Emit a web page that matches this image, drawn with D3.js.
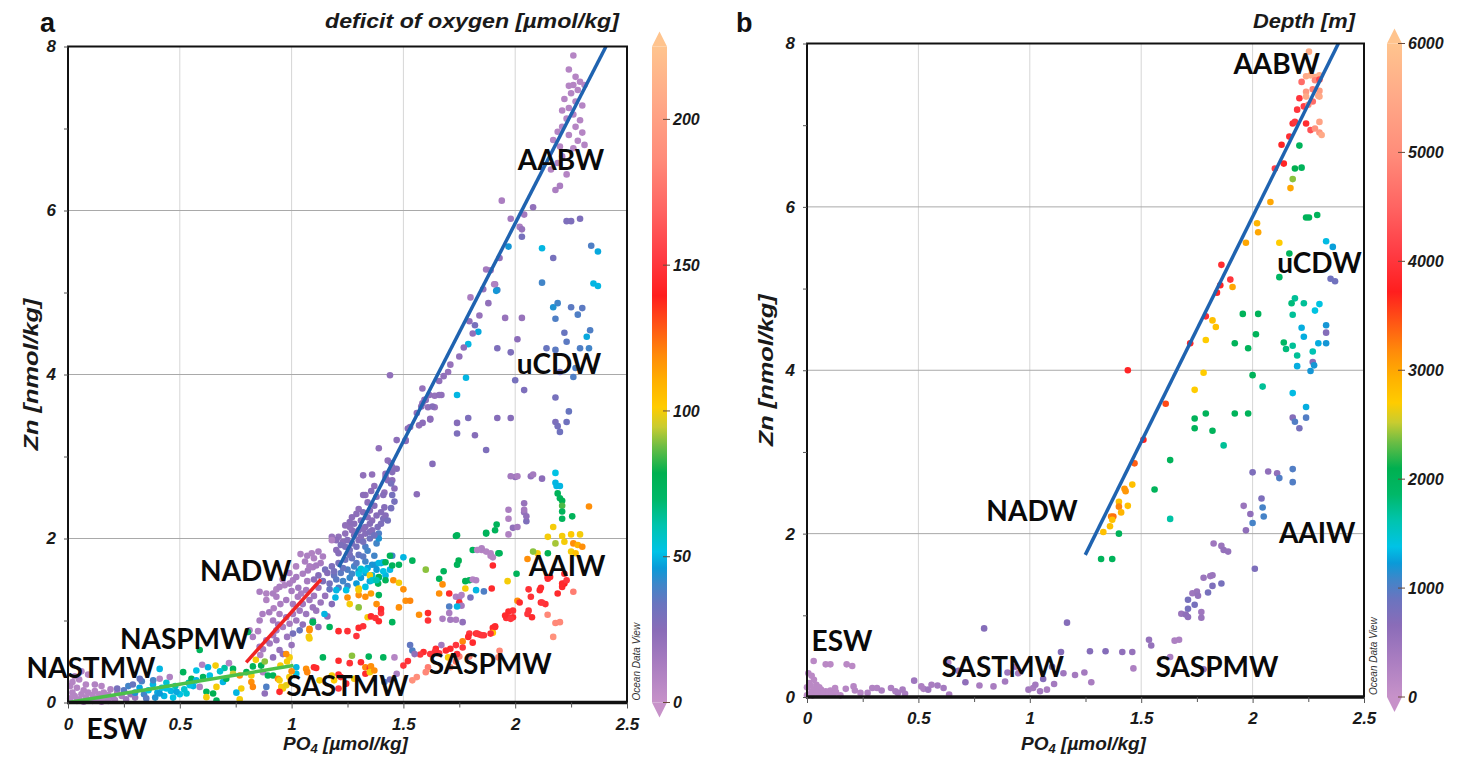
<!DOCTYPE html>
<html>
<head>
<meta charset="utf-8">
<script src="https://cdn.jsdelivr.net/npm/d3@7"></script>
<style>
  body { margin: 0; background: #fff; }
  svg { display: block; }
</style>
</head>
<body>
<svg id="chart" width="1462" height="759"></svg>
<script>
// ---- data: [PO4, Zn, colour value] ----
const deficitPoints = [
  // AABW
  [2.26,7.89,8],[2.24,7.72,8],[2.27,7.63,8],[2.29,7.57,8],[2.24,7.52,8],[2.26,7.53,8],[2.31,7.53,8],[2.28,7.47,8],
  [2.25,7.43,8],[2.22,7.36,8],[2.27,7.33,8],[2.3,7.28,8],[2.24,7.25,8],[2.21,7.22,8],[2.26,7.17,8],[2.23,7.12,8],
  [2.29,7.1,8],[2.27,7.02,8],[2.21,7.02,8],[2.19,6.96,8],[2.24,6.92,8],[2.3,6.95,8],[2.28,6.85,8],[2.31,6.8,8],
  [2.17,6.86,8],[2.2,6.78,8],[2.26,6.76,8],[2.21,6.66,8],[2.19,6.58,8],[2.16,6.5,8],[2.23,6.44,8],[2.2,6.3,12],[2.18,6.25,12],
  // upper line / uCDW
  [1.94,6.12,12],[2.08,6.04,22],[2.04,5.95,15],[1.98,5.9,15],[2.02,5.8,12],[2.03,5.77,20],[2.03,5.68,30],[1.97,5.56,45],
  [1.93,5.42,22],[2.12,5.54,50],[2.17,5.42,30],[2.34,5.57,38],[2.37,5.5,48],[1.87,5.28,15],[1.89,5.27,18],[1.91,5.1,15],
  [1.92,5.03,40],[2.12,5.12,40],[2.23,5.87,28],[2.25,5.87,28],[2.29,5.9,28],
  [1.906,5.10,10],[1.915,5.02,45],[1.857,5.04,20],[1.80,4.94,12],[2.35,5.11,50],[2.37,5.08,50],
  [2.19,4.87,40],[2.17,4.82,44],[2.25,4.82,36],[2.30,4.81,36],[2.28,4.73,38],[1.955,4.69,20],[2.03,4.69,20],[2.18,4.68,38],
  [1.795,4.65,22],[1.82,4.60,30],[1.835,4.52,48],[2.22,4.51,34],[2.335,4.54,38],[2.32,4.46,48],[2.23,4.40,36],[2.01,4.43,24],
  [1.79,4.37,50],[1.92,4.32,28],[1.98,4.27,28],[2.14,4.32,34],[2.18,4.30,36],[2.29,4.32,38],[2.33,4.32,40],[2.27,4.08,38],
  [2.20,4.03,32],[2.26,3.97,38],[2.00,3.93,30],[2.04,3.81,28],[2.18,3.72,30],[2.24,3.55,34],[2.23,3.42,32],[2.18,3.42,28],
  [2.19,3.37,30],[2.20,3.30,32],[1.92,3.47,26],[1.98,3.47,26],[1.78,3.96,50],[1.74,3.75,50],[1.79,3.47,28],[1.74,3.41,26],
  [1.74,3.28,28],[1.82,3.26,26],[1.87,3.08,28],[1.63,2.91,26],[1.44,3.99,22],
  [1.70,4.03,20],[1.68,3.98,22],[1.66,3.92,22],[1.67,3.75,22],[1.64,3.74,20],[1.585,3.83,20],[1.60,3.69,22],[1.585,3.65,22],
  [1.61,3.60,22],[1.64,3.60,20],[1.62,3.46,22],[1.57,3.38,22],[1.56,3.53,22],[1.53,3.36,22],[1.51,3.20,22],
  [1.47,3.20,24],[1.43,2.95,22],[1.45,2.87,22],[1.42,2.75,22],[1.45,2.71,24],[1.46,2.61,24],[1.415,2.56,22],[1.56,2.54,24],
  [2.07,2.76,22],[2.12,2.73,24],[2.00,2.75,22],[2.18,2.80,52],[2.18,2.68,50],[2.19,2.55,75],
  [1.71,4.12,20],[1.75,4.22,22],[1.77,4.33,24],[1.81,4.5,22],[1.84,4.72,20],[1.88,4.87,22],
  // dense cluster on the blue line
  [1.594,3.69,24],[1.58,3.61,24],[1.616,3.75,22],[1.63,3.61,26],[1.66,3.75,22],[1.62,3.45,24],[1.586,3.41,24],
  [1.52,3.34,24],[1.51,3.19,24],[1.39,3.10,22],[1.445,2.92,26],[1.47,2.85,26],[1.45,2.81,26],[1.42,2.79,22],
  [1.36,2.78,22],[1.32,2.77,22],[1.43,2.71,24],[1.445,2.67,30],[1.37,2.64,22],[1.356,2.58,24],[1.33,2.53,22],
  [1.32,2.53,24],[1.38,2.51,24],[1.41,2.53,26],[1.45,2.53,30],[1.46,2.45,30],[1.445,2.37,30],[1.415,2.38,26],[1.40,2.32,26],
  [1.38,2.28,26],[1.36,2.22,24],[1.35,2.18,26],[1.33,2.14,26],[1.32,2.12,24],[1.30,2.10,26],[1.29,2.08,24],[1.27,2.10,24],
  [1.26,2.14,22],[1.24,2.06,22],[1.29,2.30,24],[1.30,2.36,22],[1.27,2.26,24],[1.26,2.20,24],[1.24,2.16,22],[1.21,2.02,22],
  [1.23,1.96,24],[1.20,1.98,24],[1.18,2.02,20],[1.20,1.86,24],[1.21,1.82,26],[1.24,1.90,28],[1.27,1.94,28],[1.30,1.98,26],
  [1.31,2.02,26],[1.33,2.06,26],[1.35,2.08,28],[1.36,2.10,26],[1.385,2.14,28],[1.40,2.18,28],[1.41,2.24,28],[1.42,2.28,26],
  [1.43,2.22,30],[1.39,2.06,38],[1.38,1.94,40],[1.33,1.90,38],[1.37,1.79,40],[1.34,1.85,40],[1.39,2.00,44],[1.45,1.79,40],
  [1.50,1.77,50],[1.04,1.81,10],[1.07,1.79,12],[1.12,1.84,12],[1.09,1.82,10],[1.18,1.98,10],
  [1.28,2.18,24],[1.31,2.22,26],[1.34,2.26,24],[1.32,2.32,26],[1.35,2.34,24],[1.37,2.40,26],[1.34,2.44,24],[1.28,2.04,26],
  [1.25,1.98,26],[1.22,1.92,28],[1.26,1.86,30],[1.29,1.90,30],[1.32,1.96,30],[1.35,2.00,32],[1.37,2.04,32],[1.30,1.80,34],
  [1.27,1.76,34],[1.24,1.74,32],[1.21,1.70,30],[1.18,1.66,28],[1.15,1.62,30],[1.33,1.72,40],[1.36,1.68,44],[1.28,1.66,40],
  [1.25,1.62,38],[1.22,1.58,36],[1.19,1.55,34],[1.30,1.60,44],[1.33,1.58,48],[1.26,1.52,42],[1.23,1.48,40],[1.20,1.50,36],
  [1.17,1.45,30],[1.14,1.48,28],[1.12,1.55,26],[1.10,1.50,24],[1.16,1.58,26],[1.36,1.55,50],[1.39,1.52,52],[1.42,1.55,50],
  [1.35,1.48,48],[1.29,1.45,46],[1.25,1.42,40],[1.21,1.40,38],[1.17,1.38,34],[1.38,1.62,46],[1.41,1.60,52],[1.44,1.62,50],[1.40,1.70,48],
  [1.31,1.52,46],[1.27,1.57,40],[1.34,1.64,48],[1.23,1.64,34],[1.19,1.60,30],[1.29,1.70,36],[1.32,1.78,36],[1.26,1.80,30],
  // NADW
  [0.857,1.35,12],[0.887,1.33,10],[0.917,1.33,12],[0.932,1.38,10],[0.946,1.41,12],[0.969,1.43,10],[0.991,1.45,12],[1.006,1.49,12],
  [1.021,1.53,14],[1.05,1.57,12],[1.073,1.61,14],[1.095,1.65,12],[1.11,1.67,14],[0.887,1.25,10],[0.932,1.29,12],[0.976,1.25,14],
  [1.006,1.20,14],[1.028,1.29,14],[1.043,1.33,12],[1.065,1.37,14],[1.05,1.20,16],[1.08,1.25,16],[1.095,1.16,18],[1.036,1.12,16],
  [1.006,1.08,14],[1.021,1.00,16],[0.991,0.96,14],[0.961,0.92,12],[0.932,0.88,14],[0.917,0.82,14],[0.887,0.76,16],[0.872,0.65,14],
  [0.85,0.87,10],[0.812,0.88,10],[0.857,1.00,12],[0.917,1.00,14],[0.946,1.08,12],[0.976,1.04,16],[1.065,1.08,18],[1.095,1.00,20],
  [1.11,1.12,18],[0.827,0.80,12],[0.857,0.68,16],[0.902,0.72,16],[0.932,0.76,18],[0.946,0.64,20],[0.961,0.59,22],[0.917,0.55,22],
  [1.036,0.88,34],[1.006,0.84,30],[1.08,0.88,118],[1.08,0.78,100],[1.095,0.98,75],[0.991,0.55,100],[0.976,0.59,118],
  [0.96,1.5,10],[0.99,1.58,12],[1.02,1.66,10],[1.06,1.72,12],[1.1,1.76,10],[1.14,1.78,12],[1.13,1.7,14],[1.08,1.66,12],
  [1.0,1.36,14],[0.95,1.2,12],[0.9,1.1,14],[0.92,1.15,10],[1.03,1.4,16],[1.07,1.48,14],[1.12,1.4,18],[1.15,1.3,20],
  [1.13,1.22,18],[1.1,1.3,16],[0.87,1.08,12],[0.94,0.95,16],[0.98,0.8,18],[1.0,0.7,20],[1.05,0.95,22],[1.12,0.92,24],[1.16,1.05,24],[1.18,1.2,26],
  // ESW / NASTMW
  [0.01,0.05,8],[0.02,0.12,8],[0.03,0.08,8],[0.04,0.18,8],[0.05,0.04,8],[0.06,0.1,8],[0.07,0.15,8],[0.08,0.06,8],
  [0.09,0.12,8],[0.1,0.03,8],[0.11,0.09,8],[0.12,0.14,8],[0.13,0.05,8],[0.14,0.1,8],[0.15,0.07,8],[0.16,0.12,8],
  [0.17,0.04,8],[0.18,0.09,8],[0.02,0.25,8],[0.03,0.32,8],[0.05,0.28,8],[0.01,0.2,8],[0.08,0.22,8],[0.12,0.22,10],
  [0.06,0.38,8],[0.09,0.34,8],[0.2,0.06,12],[0.22,0.12,14],[0.24,0.08,12],[0.19,0.16,10],[0.26,0.04,16],[0.28,0.1,20],
  [0.3,0.06,18],[0.15,0.2,8],[0.04,0.02,8],[0.07,0.01,8],[0.11,0.02,8],[0.15,0.01,8],[0.18,0.02,10],[0.21,0.03,12],
  [0.22,0.17,30],[0.25,0.15,36],[0.27,0.2,40],[0.3,0.12,44],[0.32,0.18,48],[0.34,0.1,40],[0.36,0.15,52],[0.38,0.22,50],
  [0.4,0.12,48],[0.42,0.18,52],[0.44,0.24,55],[0.46,0.14,50],[0.48,0.2,60],[0.5,0.1,52],[0.52,0.16,55],[0.54,0.24,62],
  [0.56,0.2,50],[0.35,0.05,36],[0.39,0.06,44],[0.43,0.08,50],[0.47,0.06,52],[0.29,0.22,34],[0.33,0.26,38],[0.41,0.29,8],
  [0.455,0.31,10],[0.321,0.29,34],[0.381,0.27,40],[0.44,0.17,52],[0.485,0.13,48],[0.53,0.11,55],[0.41,0.11,46],
  // NASPMW band
  [0.805,0.86,75],[0.589,0.64,75],[0.41,0.41,50],[0.515,0.37,75],[0.574,0.39,52],[0.626,0.43,50],[0.66,0.45,100],[0.738,0.41,75],
  [0.827,0.44,75],[0.864,0.45,78],[0.552,0.29,75],[0.574,0.27,50],[0.604,0.31,75],[0.634,0.33,52],[0.545,0.21,52],[0.589,0.19,10],
  [0.619,0.13,75],[0.649,0.11,78],[0.664,0.19,100],[0.693,0.25,50],[0.708,0.29,75],[0.738,0.35,95],[0.768,0.33,118],[0.798,0.37,78],
  [0.775,0.17,100],[0.82,0.33,100],[0.82,0.25,118],[0.827,0.19,120],[0.872,0.37,10],[0.894,0.33,75],[0.917,0.33,75],[0.939,0.29,118],
  [0.946,0.27,100],[0.954,0.19,102],[0.961,0.17,100],[0.976,0.21,98],[0.946,0.13,145],[0.887,0.19,38],[0.88,0.11,22],[0.768,0.04,100],
  [0.664,0.025,75],[0.619,0.065,100],[0.753,0.12,50],[1.021,0.43,50],[1.021,0.35,52],[1.10,0.43,145],
  [0.7,0.42,62],[0.72,0.48,8],[0.68,0.38,55],[0.6,0.46,10],[0.84,0.52,100],[0.86,0.58,10],[0.88,0.5,90],[0.95,0.45,100],
  [0.98,0.5,100],[1.0,0.38,118],[0.99,0.31,100],
  // lower right: SASTMW / SASPMW / arcs
  [1.735,2.03,75],[1.87,2.07,75],[1.917,2.17,75],[1.97,2.24,10],[1.97,2.05,10],[1.99,2.13,22],[2.04,2.43,20],[2.04,2.32,20],
  [2.05,2.21,28],[1.85,1.86,8],[1.87,1.84,8],[1.89,1.79,8],[1.90,1.77,8],[1.81,1.86,75],[1.925,1.82,75],[1.747,1.73,78],
  [1.74,1.68,75],[1.60,1.62,90],[1.66,1.51,75],[1.68,1.60,75],[1.675,1.44,118],[1.66,1.33,118],[1.705,1.33,145],[1.735,1.29,10],
  [1.75,1.28,12],[1.76,1.31,10],[1.75,1.22,145],[1.76,1.18,15],[1.74,1.17,50],[1.705,1.17,38],[1.705,1.09,12],[1.71,1.01,15],
  [1.675,1.02,12],[1.765,0.98,22],[1.735,1.01,12],[1.777,1.48,78],[1.795,1.49,75],[1.81,1.50,8],[1.825,1.49,10],[1.777,1.39,100],
  [1.825,1.37,50],[1.80,1.28,30],[1.86,1.355,38],[1.895,1.39,145],[1.966,1.48,100],[2.006,1.57,75],[2.01,1.24,118],[1.90,1.67,145],
  [2.055,1.75,118],[2.06,1.38,148],[2.115,1.40,145],[2.145,1.53,145],[2.21,1.41,145],[2.22,1.45,140],
  [2.145,1.07,185],[2.18,0.97,185],[2.115,1.22,145],[2.135,1.20,148],[2.055,1.08,150],[2.075,1.04,145],[1.97,1.11,145],
  [1.97,1.04,150],[1.96,1.03,148],[1.99,1.04,145],[1.91,0.93,148],[1.90,0.91,145],[1.90,0.85,105],[1.86,0.82,150],[1.84,0.83,148],
  [1.825,0.84,145],[1.795,0.84,150],[1.765,0.745,120],[1.79,0.80,145],[1.735,0.70,150],[1.71,0.655,145],[1.69,0.635,145],[1.66,0.60,150],
  [1.67,0.70,15],[1.645,0.655,145],[1.64,0.615,148],[1.62,0.59,150],[1.59,0.615,145],[1.575,0.585,150],[1.54,0.635,38],[1.55,0.59,22],
  [1.53,0.70,35],[1.50,0.45,150],[1.52,0.505,148],[1.70,0.55,100],[1.61,0.43,180],[1.60,0.37,185],[1.56,0.31,188],[1.54,0.27,190],
  [1.71,0.43,185],[1.735,0.50,180],[1.75,0.56,182],[1.795,0.56,185],[1.93,0.63,185],[1.925,0.55,188],[1.47,0.35,12],[1.14,0.55,75],
  [1.21,0.51,145],[1.26,0.48,148],[1.31,0.49,145],[1.27,0.57,90],[1.345,0.56,75],[1.41,0.55,75],[1.46,0.55,8],[1.33,0.43,120],
  [1.35,0.42,145],[1.355,0.44,118],[1.33,0.35,145],[1.35,0.37,100],[1.37,0.39,118],[1.21,0.34,145],[1.22,0.31,148],[1.18,0.33,100],
  [1.19,0.27,102],[1.125,0.27,100],[1.065,0.41,118],[1.07,0.37,120],[1.11,0.42,145],[1.244,0.23,145],[1.21,0.17,150],[1.28,0.29,100],
  [1.415,0.25,38],[1.44,0.28,30],
  [1.21,0.87,145],[1.25,0.87,148],[1.29,0.81,150],[1.30,0.91,145],[1.32,0.93,148],[1.34,1.04,100],[1.355,1.05,145],[1.375,1.03,148],
  [1.39,0.99,145],[1.40,1.09,150],[1.40,1.14,145],[1.25,1.28,118],[1.30,1.31,118],[1.26,1.20,100],[1.30,1.37,100],[1.30,1.16,90],
  [1.33,1.29,118],[1.355,1.33,115],[1.39,1.31,75],[1.48,1.16,118],[1.51,1.24,118],[1.53,1.24,120],[1.57,1.07,118],[1.61,1.09,145],
  [1.61,1.00,148],[1.147,1.08,50],[1.17,0.92,75],[1.095,0.98,75],[1.08,0.90,118],[1.077,0.80,100],[1.42,1.49,75],[1.455,1.49,118],
  [1.48,1.46,100],[1.50,1.38,118],[1.387,1.45,75],[1.39,1.53,75],[1.375,1.68,45],[1.39,1.70,50],[1.41,1.71,50],[1.42,1.71,75],
  [1.44,1.79,75],[1.45,1.67,75],[1.48,1.68,75],[1.54,1.73,75],[1.30,1.57,52],[1.31,1.63,55],[1.33,1.61,52],[1.35,1.55,100],
  [1.36,1.49,55],[1.38,1.49,60],[1.30,1.39,100],[1.33,1.41,52],[1.20,1.37,50],[1.244,1.37,52],[1.196,1.28,50],[1.38,1.20,118],[1.45,0.98,75],
  // AAIW
  [2.185,2.64,50],[2.20,2.64,50],[2.20,2.49,75],[2.21,2.46,78],[2.21,2.40,85],[2.33,2.39,118],[2.21,2.33,75],[2.21,2.24,75],
  [2.255,2.27,75],[2.17,2.14,100],[2.146,2.02,100],[2.21,2.03,100],[2.25,2.05,102],[2.29,2.05,100],[2.18,1.94,92],[2.22,1.96,100],
  [2.26,1.94,118],[2.28,1.92,110],[2.30,1.90,118],[2.10,1.82,100],[2.146,1.82,78],[2.08,1.84,90],[2.25,1.84,100],[2.27,1.82,105],
  [2.156,1.53,145],[2.22,1.57,148],[2.21,1.45,145],[2.23,1.49,150],[2.26,1.35,180],[2.19,1.33,145],[2.146,1.51,145],[2.11,1.37,145],
  [2.12,1.22,150],[2.07,1.29,148],[2.02,1.22,145],[2.06,1.12,150],[1.99,1.12,148],[1.955,1.06,145],[1.98,1.02,150],[1.91,0.92,145],
  [1.89,0.84,148],[1.85,0.82,150],[1.83,0.84,150],[1.81,0.73,145],[1.765,0.67,150],[1.74,0.59,148],[2.20,0.98,185],[2.17,0.80,190],
  [1.98,2.76,15],[2.01,2.76,12],[2.08,2.78,15],[1.97,2.35,12],[2.04,2.35,15],[2.05,2.27,22],[2.01,2.14,15],
  [1.89,1.82,8],[1.85,1.88,10],[1.83,1.86,8],[1.93,1.82,75],[1.74,2.04,75],[1.87,2.06,75],[1.91,2.10,75]
];

const depthPoints = [
  // AABW
  [2.253,7.90,5600],[2.24,7.60,5500],[2.26,7.61,5600],[2.28,7.59,5500],[2.30,7.61,5600],[2.22,7.53,4600],[2.28,7.55,4900],
  [2.30,7.56,4200],[2.27,7.44,4800],[2.30,7.42,5300],[2.24,7.41,5200],[2.21,7.33,4000],[2.24,7.35,5500],[2.295,7.36,5400],
  [2.27,7.29,4600],[2.30,7.35,5500],[2.20,7.19,4000],[2.23,7.23,4100],[2.25,7.25,5000],[2.18,7.02,3900],[2.19,7.04,4000],
  [2.24,7.02,3900],[2.30,7.04,5400],[2.26,6.94,4300],[2.28,6.96,5100],[2.30,6.91,5200],[2.31,6.88,5500],[2.165,6.86,3900],
  [2.13,6.76,3800],[2.21,6.75,2000],[2.14,6.53,3800],[2.19,6.47,2100],[2.22,6.48,2000],[2.18,6.34,2400],[2.10,6.47,4100],
  [2.17,6.23,3000],[2.08,6.06,3000],
  // uCDW and line
  [2.24,5.87,2000],[2.253,5.87,2000],[2.29,5.90,2000],[2.02,5.80,2900],[2.025,5.69,3000],[1.97,5.56,3000],[2.12,5.56,2700],
  [2.33,5.58,1350],[2.36,5.51,1250],[2.165,5.43,2000],[1.86,5.29,3900],[1.90,5.11,4000],[1.91,5.02,3000],[1.855,5.04,3800],
  [1.84,4.95,3800],[2.12,5.14,1900],[2.35,5.12,850],[2.37,5.09,850],[2.19,4.88,1700],[2.175,4.82,1800],[2.23,4.82,1700],
  [2.30,4.81,1400],[2.28,4.73,1400],[1.956,4.69,2000],[2.025,4.69,2000],[2.18,4.68,1700],[1.79,4.66,3900],[1.82,4.61,2800],
  [1.835,4.53,2800],[2.015,4.44,2000],[2.33,4.55,1200],[2.22,4.52,1300],[2.23,4.41,1300],[2.33,4.46,700],[1.79,4.37,2700],
  [1.72,4.33,3800],[1.92,4.33,2000],[1.98,4.27,2000],[2.14,4.34,1900],[2.15,4.26,1800],[2.18,4.30,1700],[2.295,4.33,1300],
  [2.33,4.33,1200],[2.20,4.18,1700],[2.27,4.23,1600],[2.27,4.10,700],[2.276,4.06,1200],[2.20,4.05,1300],[2.26,3.99,1200],
  [1.44,4.00,3800],[1.78,3.97,2700],[2.00,3.94,2000],
  [1.74,3.76,2700],[1.61,3.59,3500],[1.51,3.15,3700],[1.47,2.86,3400],[1.46,2.60,2800],[1.425,2.55,3100],[1.43,2.52,3100],
  [1.40,2.39,2800],[1.40,2.33,3200],[1.41,2.26,2900],[1.44,2.34,2800],[1.365,2.21,3200],[1.375,2.21,3300],[1.37,2.17,2800],
  [1.36,2.09,2800],[1.33,2.02,2800],[1.40,2.00,2000],[1.32,1.69,2000],[1.37,1.69,2000],[2.045,3.80,1700],[1.74,3.41,2000],
  [1.79,3.47,2000],[1.74,3.29,2000],[1.82,3.26,2000],[1.92,3.47,2000],[1.98,3.47,2000],[1.87,3.08,1700],[1.63,2.90,2000],
  [1.56,2.54,2000],[1.63,2.18,1650],[2.18,3.72,1350],[2.24,3.55,1300],[2.18,3.42,700],[2.19,3.37,1000],[2.21,3.29,800],
  [2.24,3.42,1000],
  // AAIW
  [2.00,2.75,750],[2.07,2.76,600],[2.11,2.74,600],[2.12,2.68,1000],[2.18,2.79,1000],[2.18,2.63,1000],[2.04,2.43,750],
  [2.045,2.32,1050],[2.05,2.21,1050],[1.96,2.34,500],[1.99,2.24,600],[1.97,2.04,600],[2.00,2.13,1050],[2.01,1.57,750],
  // SASPMW
  [1.825,1.88,450],[1.86,1.85,500],[1.87,1.80,550],[1.89,1.78,550],[1.78,1.46,500],[1.81,1.48,450],[1.82,1.49,500],
  [1.82,1.36,750],[1.86,1.39,800],[1.80,1.28,800],[1.73,1.27,450],[1.75,1.29,500],[1.755,1.24,550],[1.71,1.19,800],
  [1.74,1.13,800],[1.71,1.08,800],[1.68,1.02,500],[1.70,1.01,600],[1.71,0.98,600],[1.77,1.04,450],[1.77,0.97,500],
  [1.535,0.70,550],[1.545,0.63,550],[1.65,0.69,300],[1.67,0.70,300],[1.34,0.56,700],[1.415,0.55,600],[1.46,0.55,550],
  [1.465,0.35,300],[1.63,0.49,300],[1.78,0.34,550],
  // ESW / SASTMW
  [0.03,0.44,150],[0.084,0.40,150],[0.105,0.40,150],[0.178,0.40,150],[0.203,0.38,150],[0.006,0.29,150],[0.021,0.26,150],
  [0.031,0.21,150],[0.01,0.17,150],[0.042,0.15,150],[0.063,0.09,150],[0.084,0.07,150],[0.105,0.08,150],[0.126,0.11,150],
  [0.021,0.07,150],[0.052,0.04,150],[0.073,0.03,150],[0.094,0.05,150],[0.01,0.03,150],[0.12,0.04,150],[0.038,0.10,150],
  [0.0,0.12,150],[0.015,0.14,150],[0.055,0.12,150],[0.07,0.06,150],[0.11,0.03,150],[0.13,0.06,150],[0.15,0.02,150],
  [0.045,0.06,150],[0.0,0.02,150],[0.025,0.02,150],
  [0.174,0.10,200],[0.209,0.13,200],[0.215,0.08,200],[0.24,0.05,200],[0.272,0.05,250],[0.293,0.11,250],[0.314,0.11,250],
  [0.335,0.08,300],[0.377,0.11,300],[0.397,0.07,300],[0.408,0.05,350],[0.429,0.09,350],[0.44,0.04,350],[0.481,0.20,450],
  [0.513,0.13,300],[0.523,0.10,300],[0.544,0.09,450],[0.559,0.15,350],[0.586,0.14,400],[0.613,0.11,400],[0.634,0.42,250],
  [0.638,0.03,350],[0.711,0.18,600],[0.774,0.14,350],[0.837,0.13,350],[0.889,0.19,400],[0.935,0.37,300],[0.948,0.29,350],
  [0.994,0.09,400],[1.015,0.11,350],[1.025,0.15,400],[1.046,0.07,400],[1.077,0.09,350],[1.109,0.16,400],[1.151,0.29,450],
  [1.203,0.27,400],[1.245,0.30,400],[1.276,0.18,350],[0.795,0.84,700],[1.167,0.91,700],[1.14,0.55,700],[1.27,0.56,700],
  [0.9,0.30,450],[1.06,0.22,700],[1.1,0.37,800],[0.68,0.32,500]
];

// regression lines
const deficitLines = [
  { color: '#1f63b0', pts: [[1.211, 1.65], [2.406, 8.0]] },
  { color: '#f02424', pts: [[0.797, 0.49], [1.131, 1.50]] },
  { color: '#4cc04a', pts: [[0.0, 0.0], [1.008, 0.45]] }
];
const depthLines = [
  { color: '#1f63b0', pts: [[1.249, 1.74], [2.385, 8.0]] }
];

// water mass labels [text, PO4, Zn]
const deficitLabels = [
  ['AABW', 2.205, 6.62], ['uCDW', 2.196, 4.13], ['NADW', 0.795, 1.6], ['AAIW', 2.232, 1.66],
  ['NASPMW', 0.522, 0.78], ['NASTMW', 0.103, 0.42], ['SASTMW', 1.25, 0.2], ['SASPMW', 1.888, 0.47], ['ESW', 0.219, -0.32]
];
const depthLabels = [
  ['AABW', 2.108, 7.75], ['uCDW', 2.30, 5.32], ['NADW', 1.01, 2.28], ['AAIW', 2.29, 2.01],
  ['ESW', 0.157, 0.685], ['SASTMW', 0.879, 0.367], ['SASPMW', 1.84, 0.367]
];

// axes
const xTicks = [0, 0.5, 1, 1.5, 2, 2.5];
const xMinor = [0.25, 0.75, 1.25, 1.75, 2.25];
const xGrid = [0.5, 1, 1.5, 2];
const yTicks = [0, 2, 4, 6, 8];
const yMinor = [1, 3, 5, 7];
const yGrid = [2, 4, 6];
const deficitTicks = [0, 50, 100, 150, 200];
const depthTicks = [0, 1000, 2000, 3000, 4000, 5000, 6000];

// Ocean Data View rainbow, positions along the colour bar
const colourStops = [
  [0, '#c792c9'], [0.06, '#a87cc0'], [0.11, '#8a6cb8'], [0.15, '#6a74bf'], [0.18, '#3f86c9'],
  [0.205, '#0a9ad8'], [0.23, '#00c3e6'], [0.27, '#00c4ae'], [0.31, '#00b868'], [0.35, '#00b050'],
  [0.39, '#6cbd44'], [0.42, '#c8cc30'], [0.45, '#ffcc00'], [0.49, '#ffb000'], [0.53, '#ff8a0a'],
  [0.57, '#ff5a14'], [0.62, '#ff1e1e'], [0.68, '#ff3c44'], [0.75, '#ff6462'], [0.83, '#ff8c7a'],
  [0.92, '#ffaa88'], [1, '#ffc48e']
];

const svg = d3.select('#chart');
const defs = svg.append('defs');
const axisFont = "'Liberation Sans', Arial, sans-serif";

const panels = [
  { id: 'a', left: 68, right: 627, top: 46.5, bottom: 702.5, barX: 652, cMax: 225,
    points: deficitPoints, lines: deficitLines, labels: deficitLabels, cTicks: deficitTicks,
    title: 'deficit of oxygen [\u00b5mol/kg]', titleRight: 619, titleLen: 294, letterX: 40, yTitleX: 31 },
  { id: 'b', left: 807, right: 1364, top: 43.5, bottom: 697, barX: 1387, cMax: 6000,
    points: depthPoints, lines: depthLines, labels: depthLabels, cTicks: depthTicks,
    title: 'Depth [m]', titleRight: 1355, titleLen: 102, letterX: 736, yTitleX: 766 }
];

panels.forEach(p => {
  const x = d3.scaleLinear().domain([0, 2.5]).range([p.left, p.right]);
  const y = d3.scaleLinear().domain([0, 8]).range([p.bottom, p.top]);
  const col = d3.scaleLinear()
    .domain(colourStops.map(s => s[0] * p.cMax))
    .range(colourStops.map(s => s[1]))
    .clamp(true);
  const g = svg.append('g').attr('class', 'panel-' + p.id);

  // grid
  g.append('g').selectAll('line').data(xGrid).join('line')
    .attr('x1', d => x(d)).attr('x2', d => x(d))
    .attr('y1', p.top).attr('y2', p.bottom)
    .attr('stroke', '#d6d6d6').attr('stroke-width', 1);
  g.append('g').selectAll('line').data(yGrid).join('line')
    .attr('x1', p.left).attr('x2', p.right)
    .attr('y1', d => y(d)).attr('y2', d => y(d))
    .attr('stroke', '#a9a9a9').attr('stroke-width', 1);

  // points
  g.append('g').selectAll('circle').data(p.points).join('circle')
    .attr('cx', d => x(d[0])).attr('cy', d => y(d[1]))
    .attr('r', 3.3)
    .attr('fill', d => col(d[2]));

  // lines
  const line = d3.line().x(d => x(d[0])).y(d => y(d[1]));
  g.append('g').selectAll('path').data(p.lines).join('path')
    .attr('d', d => line(d.pts))
    .attr('fill', 'none')
    .attr('stroke', d => d.color)
    .attr('stroke-width', 3.5);

  // frame
  g.append('rect')
    .attr('x', p.left).attr('y', p.top)
    .attr('width', p.right - p.left).attr('height', p.bottom - p.top)
    .attr('fill', 'none').attr('stroke', '#111').attr('stroke-width', 2);
  g.append('line')
    .attr('x1', p.left - 1).attr('x2', p.right + 1)
    .attr('y1', p.bottom).attr('y2', p.bottom)
    .attr('stroke', '#111').attr('stroke-width', 3.5);

  // axes
  const xa = g.append('g').attr('transform', `translate(0,${p.bottom})`)
    .call(d3.axisBottom(x).tickValues(xTicks).tickSize(6).tickPadding(9).tickFormat(d => String(d)));
  g.append('g').attr('transform', `translate(0,${p.bottom})`)
    .call(d3.axisBottom(x).tickValues(xMinor).tickSize(5).tickFormat(''));
  const ya = g.append('g').attr('transform', `translate(${p.left},0)`)
    .call(d3.axisLeft(y).tickValues(yTicks).tickSize(4).tickPadding(8).tickFormat(d => String(d)));
  g.append('g').attr('transform', `translate(${p.left},0)`)
    .call(d3.axisLeft(y).tickValues(yMinor).tickSize(4).tickFormat(''));
  g.selectAll('.domain').remove();
  g.selectAll('.tick line').attr('stroke', '#555');
  [xa, ya].forEach(a => a.selectAll('text')
    .attr('font-family', axisFont).attr('font-weight', 'bold').attr('font-style', 'italic')
    .attr('font-size', 17).attr('fill', '#1a1a1a'));

  // water mass labels
  g.append('g').selectAll('text').data(p.labels).join('text')
    .attr('x', d => x(d[1])).attr('y', d => y(d[2]))
    .attr('dy', '0.36em')
    .attr('text-anchor', 'middle')
    .attr('font-family', 'Lato, sans-serif').attr('font-weight', 'bold')
    .attr('font-size', 28).attr('fill', '#0a0a0a')
    .text(d => d[0]);

  // axis titles
  const xt = g.append('text')
    .attr('x', (p.left + p.right) / 2 - 2).attr('y', 750)
    .attr('text-anchor', 'middle')
    .attr('font-family', axisFont).attr('font-weight', 'bold').attr('font-style', 'italic')
    .attr('font-size', 19).attr('fill', '#1a1a1a');
  xt.append('tspan').text('PO');
  xt.append('tspan').attr('font-size', 13).attr('dy', 3).text('4');
  xt.append('tspan').attr('dy', -3).text(' [\u00b5mol/kg]');

  g.append('text')
    .attr('transform', `translate(${p.yTitleX},${(p.top + p.bottom) / 2}) rotate(-90)`)
    .attr('text-anchor', 'middle').attr('dy', '0.35em')
    .attr('font-family', axisFont).attr('font-weight', 'bold').attr('font-style', 'italic')
    .attr('font-size', 20).attr('fill', '#1a1a1a')
    .attr('textLength', 152).attr('lengthAdjust', 'spacingAndGlyphs')
    .text('Zn [nmol/kg]');

  // colour bar title and panel letter
  g.append('text')
    .attr('x', p.titleRight).attr('y', 28)
    .attr('text-anchor', 'end')
    .attr('font-family', axisFont).attr('font-weight', 'bold').attr('font-style', 'italic')
    .attr('font-size', 20).attr('fill', '#1a1a1a')
    .attr('textLength', p.titleLen).attr('lengthAdjust', 'spacingAndGlyphs')
    .text(p.title);
  g.append('text')
    .attr('x', p.letterX).attr('y', 32)
    .attr('font-family', axisFont).attr('font-weight', 'bold')
    .attr('font-size', 27).attr('fill', '#111')
    .text(p.id);

  // colour bar
  const cs = d3.scaleLinear().domain([0, p.cMax]).range([p.bottom, p.top]);
  const grad = defs.append('linearGradient').attr('id', 'grad-' + p.id)
    .attr('x1', 0).attr('y1', 1).attr('x2', 0).attr('y2', 0);
  grad.selectAll('stop').data(colourStops).join('stop')
    .attr('offset', d => d[0]).attr('stop-color', d => d[1]);
  const bw = 15;
  const cb = g.append('g');
  cb.append('rect')
    .attr('x', p.barX).attr('y', cs(p.cMax))
    .attr('width', bw).attr('height', cs(0) - cs(p.cMax))
    .attr('fill', `url(#grad-${p.id})`);
  cb.append('path')
    .attr('d', `M${p.barX},${cs(p.cMax)} L${p.barX + bw},${cs(p.cMax)} L${p.barX + bw / 2},${cs(p.cMax) - 15} Z`)
    .attr('fill', col(p.cMax));
  cb.append('path')
    .attr('d', `M${p.barX},${cs(0)} L${p.barX + bw},${cs(0)} L${p.barX + bw / 2},${cs(0) + 15} Z`)
    .attr('fill', col(0));
  cb.selectAll('line.tk').data(p.cTicks).join('line').attr('class', 'tk')
    .attr('x1', p.barX + 11).attr('x2', p.barX + 18)
    .attr('y1', d => cs(d)).attr('y2', d => cs(d))
    .attr('stroke', '#6a4a3a').attr('stroke-width', 1);
  cb.selectAll('text').data(p.cTicks).join('text')
    .attr('x', p.barX + 21).attr('y', d => cs(d)).attr('dy', '0.35em')
    .attr('font-family', axisFont).attr('font-weight', 'bold').attr('font-style', 'italic')
    .attr('font-size', 16).attr('fill', '#1a1a1a')
    .text(d => d);

  g.append('text')
    .attr('transform', `translate(${p.right + 13},${p.bottom - 2}) rotate(-90)`)
    .attr('font-family', axisFont).attr('font-style', 'italic')
    .attr('font-size', 10).attr('fill', '#333')
    .text('Ocean Data View');
});
</script>
</body>
</html>
